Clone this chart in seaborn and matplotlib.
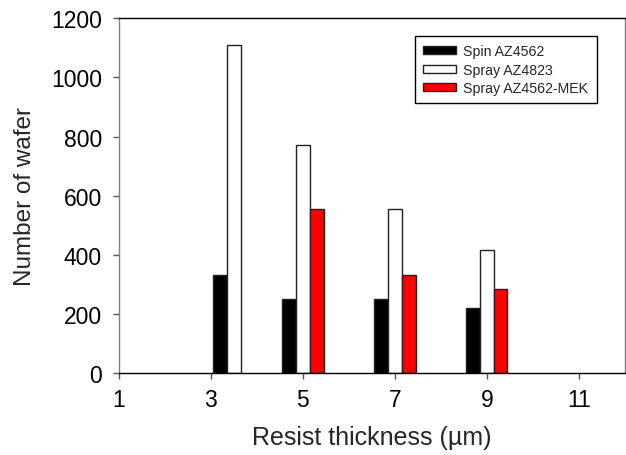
import pandas as pd
import matplotlib
matplotlib.use("Agg")
import matplotlib.pyplot as plt
import seaborn as sns

# data
thickness = [3.5, 5, 7, 9]
spin_az4562 = [333, 250, 250, 222]
spray_az4823 = [1110, 770, 555, 416]
spray_az4562_mek = [None, 555, 333, 286]
series_names = ["Spin AZ4562", "Spray AZ4823", "Spray AZ4562-MEK"]
bar_colors = ["black", "white", "red"]
x_ticks = [1, 3, 5, 7, 9, 11]
y_ticks = [0, 200, 400, 600, 800, 1000, 1200]

rows = []
for name, vals in zip(series_names, [spin_az4562, spray_az4823, spray_az4562_mek]):
    for t, v in zip(thickness, vals):
        if v is not None:
            rows.append({"thickness": t, "wafers": v, "process": name})
df = pd.DataFrame(rows)

sns.set_style("ticks")
plt.rcParams["font.family"] = ["Liberation Sans", "DejaVu Sans"]

fig = plt.figure(figsize=(6.26, 4.56), dpi=100)
ax = fig.add_axes([0.190, 0.179, 0.808, 0.779])

sns.barplot(data=df, x="thickness", y="wafers", hue="process",
            hue_order=series_names, palette=dict(zip(series_names, bar_colors)),
            native_scale=True, width=0.6, errorbar=None, saturation=1,
            edgecolor="#222222", linewidth=1, ax=ax)

ax.set_xlim(1, 12)
ax.set_ylim(0, 1200)
ax.set_xticks(x_ticks)
ax.set_xticklabels([str(t) for t in x_ticks])
ax.set_yticks(y_ticks)
ax.tick_params(axis="both", labelsize=16.5, direction="out", length=4.3, width=1,
               colors="#555555", labelcolor="black")
ax.tick_params(axis="x", pad=6)
ax.tick_params(axis="y", pad=8)
ax.set_xlabel("Resist thickness (µm)", fontsize=18, labelpad=10)
ax.set_ylabel("Number of wafer", fontsize=17.5, labelpad=11)

for side in ["top", "bottom"]:
    ax.spines[side].set_color("black")
for side in ["left", "right"]:
    ax.spines[side].set_color("#808080")
for sp in ax.spines.values():
    sp.set_visible(True)
    sp.set_linewidth(1)

leg = ax.legend(loc="upper right", bbox_to_anchor=(0.945, 0.95), borderaxespad=0,
                fontsize=10.2, handlelength=2.3, handleheight=0.5, handletextpad=0.55,
                labelspacing=0.3, fancybox=False, framealpha=1, edgecolor="black",
                borderpad=0.6)
leg.get_frame().set_linewidth(1)

fig.savefig("out.png", dpi=100)
